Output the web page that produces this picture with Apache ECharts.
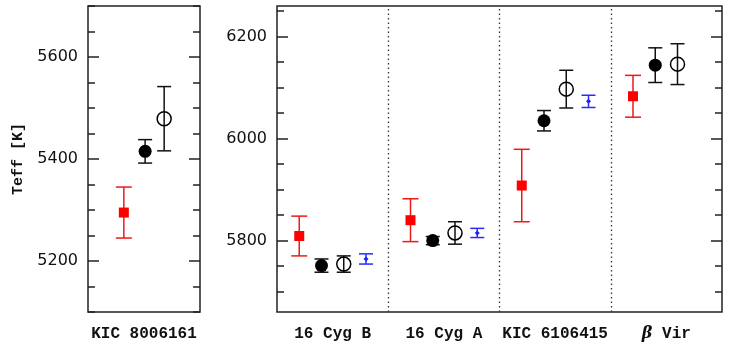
<!DOCTYPE html>
<html><head><meta charset="utf-8">
<script src="https://cdn.jsdelivr.net/npm/echarts@6/dist/echarts.min.js"></script>
<style>html,body{margin:0;padding:0;background:#fff}#c{width:731px;height:344px}</style>
</head><body><div id="c"></div>
<script>
// ---- data ----
const leftCategories = ['KIC 8006161'];
const rightCategories = ['16 Cyg B', '16 Cyg A', 'KIC 6106415', 'β Vir'];
// values: [KIC 8006161, 16 Cyg B, 16 Cyg A, KIC 6106415, beta Vir]
const redTeff    = [5295, 5809, 5840, 5908, 6083];
const redErr     = [50, 39, 42, 71, 41];
const filledTeff = [5415, 5751, 5800, 6035, 6144];
const filledErr  = [23, 13, 8, 20, 34];
const openTeff   = [5479, 5754, 5815, 6097, 6146];
const openErr    = [63, 16, 22, 37, 40];
const blueTeff   = [null, 5764, 5815, 6073, null];
const blueErr    = [null, 10, 9, 12, null];
const leftRange  = [5100, 5700];
const rightRange = [5660, 6260];
const minorStep = 50, majorStep = 200;

// ---- layout ----
const TOP = 6, H = 306;
const K = H / (leftRange[1] - leftRange[0]);
const LEFTP = {left: 88, width: 112};
const RIGHTP = {left: 277, width: 445};
const leftOffsets = [0.32, 0.51, 0.68];
const rightOffsets = [0.2, 0.4, 0.6, 0.8];
const FRAME = '#222', TICKC = '#222';

function subGrid(panel, range, lo, hi) {
  return {left: panel.left, width: panel.width, top: TOP + (range[1] - hi) * K, height: (hi - lo) * K, show: false};
}
const leftMinor = [Math.ceil(leftRange[0] / minorStep) * minorStep, Math.floor(leftRange[1] / minorStep) * minorStep];
const leftMajor = [Math.ceil(leftRange[0] / majorStep) * majorStep, Math.floor(leftRange[1] / majorStep) * majorStep];
const rightMinor = [Math.ceil(rightRange[0] / minorStep) * minorStep, Math.floor(rightRange[1] / minorStep) * minorStep];
const rightMajor = [Math.ceil(rightRange[0] / majorStep) * majorStep, Math.floor(rightRange[1] / majorStep) * majorStep];

const grids = [
  {left: LEFTP.left, width: LEFTP.width, top: TOP, height: H, show: true, borderColor: FRAME, borderWidth: 1.5, backgroundColor: 'transparent'},
  subGrid(LEFTP, leftRange, leftMinor[0], leftMinor[1]),
  subGrid(LEFTP, leftRange, leftMajor[0], leftMajor[1]),
  {left: RIGHTP.left, width: RIGHTP.width, top: TOP, height: H, show: true, borderColor: FRAME, borderWidth: 1.5, backgroundColor: 'transparent'},
  subGrid(RIGHTP, rightRange, rightMinor[0], rightMinor[1]),
  subGrid(RIGHTP, rightRange, rightMajor[0], rightMajor[1])
];

const labelFont = {fontFamily: 'Liberation Mono', fontWeight: 'bold', fontSize: 16, color: '#111'};
const tickFont = {fontFamily: 'DejaVu Sans', fontSize: 16, color: '#111'};

function hiddenX(gi, min, max) { return {type: 'value', gridIndex: gi, min: min, max: max, show: false}; }
function catX(gi, cats) {
  return {type: 'category', gridIndex: gi, data: cats, position: 'bottom', boundaryGap: true,
    axisLine: {show: false}, axisTick: {show: false}, splitLine: {show: false},
    axisLabel: Object.assign({margin: 14, interval: 0,
      formatter: v => v.indexOf('β') === 0 ? '{g|β}' + v.slice(1) : v,
      rich: {g: {fontFamily: 'DejaVu Serif', fontStyle: 'italic', fontWeight: 'bold', fontSize: 16, color: '#111'}}}, labelFont)};
}
function tickY(gi, lo, hi, step, pos, len, labels, name) {
  const a = {type: 'value', gridIndex: gi, position: pos, min: lo, max: hi, interval: step,
    axisLine: {show: false}, splitLine: {show: false},
    axisTick: {show: true, inside: true, length: len, lineStyle: {color: TICKC, width: 1.5}},
    axisLabel: labels ? Object.assign({show: true, margin: 10, formatter: v => String(v)}, tickFont) : {show: false}};
  if (name) {
    a.name = name; a.nameLocation = 'middle'; a.nameRotate = 90; a.nameGap = 62;
    a.nameTextStyle = {fontFamily: 'Liberation Mono', fontWeight: 'bold', fontSize: 15, color: '#111'};
  }
  return a;
}

const xAxes = [
  hiddenX(0, 0, 1), catX(0, leftCategories),
  hiddenX(1, 0, 1), hiddenX(2, 0, 1),
  hiddenX(3, 0, 4), catX(3, rightCategories),
  hiddenX(4, 0, 4), hiddenX(5, 0, 4)
];
const yAxes = [
  {type: 'value', gridIndex: 0, min: leftRange[0], max: leftRange[1], show: false},
  tickY(1, leftMinor[0], leftMinor[1], minorStep, 'left', 7, false),
  tickY(1, leftMinor[0], leftMinor[1], minorStep, 'right', 7, false),
  tickY(2, leftMajor[0], leftMajor[1], majorStep, 'left', 11, true, 'Teff [K]'),
  tickY(2, leftMajor[0], leftMajor[1], majorStep, 'right', 11, false),
  {type: 'value', gridIndex: 3, min: rightRange[0], max: rightRange[1], show: false},
  tickY(4, rightMinor[0], rightMinor[1], minorStep, 'left', 7, false),
  tickY(4, rightMinor[0], rightMinor[1], minorStep, 'right', 7, false),
  tickY(5, rightMajor[0], rightMajor[1], majorStep, 'left', 11, true),
  tickY(5, rightMajor[0], rightMajor[1], majorStep, 'right', 11, false)
];

function pts(vals, errs, k) {
  const L = [], R = [];
  vals.forEach((v, i) => {
    if (v == null) return;
    if (i === 0) L.push([leftOffsets[k === 3 ? 2 : k], v, errs[i]]);
    else R.push([i - 1 + rightOffsets[k], v, errs[i]]);
  });
  return {L, R};
}

function errSeries(data, xi, yi, color, cap) {
  return {type: 'custom', xAxisIndex: xi, yAxisIndex: yi, data: data, silent: true, z: 2,
    renderItem: (params, api) => {
      const x = api.value(0), y = api.value(1), e = api.value(2);
      const t = api.coord([x, y + e]), b = api.coord([x, y - e]);
      const st = {stroke: color, lineWidth: 1.5, fill: null};
      return {type: 'group', children: [
        {type: 'line', shape: {x1: t[0], y1: t[1], x2: b[0], y2: b[1]}, style: st},
        {type: 'line', shape: {x1: t[0] - cap, y1: t[1], x2: t[0] + cap, y2: t[1]}, style: st},
        {type: 'line', shape: {x1: b[0] - cap, y1: b[1], x2: b[0] + cap, y2: b[1]}, style: st}
      ]};
    }};
}
function markSeries(data, xi, yi, symbol, size, style) {
  return {type: 'scatter', xAxisIndex: xi, yAxisIndex: yi, data: data.map(d => [d[0], d[1]]), symbol: symbol,
    symbolSize: size, itemStyle: Object.assign({opacity: 1}, style), silent: true, z: 3};
}

const red = pts(redTeff, redErr, 0);
const filled = pts(filledTeff, filledErr, 1);
const open = pts(openTeff, openErr, 2);
const blue = pts(blueTeff, blueErr, 3);

const redStyle = {color: '#ff0000'};
const filledStyle = {color: '#000'};
const openStyle = {color: 'rgba(0,0,0,0)', borderColor: '#000', borderWidth: 1.5};
const blueStyle = {color: '#2020ff'};

const series = [];
[[red, '#f01818', 8, 'rect', 10, redStyle], [filled, '#111', 7, 'circle', 13, filledStyle],
 [open, '#111', 7, 'circle', 14, openStyle], [blue, '#2a2aff', 7, 'diamond', 5, blueStyle]].forEach(s => {
  const [d, col, cap, sym, sz, sty] = s;
  if (d.L.length) { series.push(errSeries(d.L, 0, 0, col, cap)); series.push(markSeries(d.L, 0, 0, sym, sz, sty)); }
  if (d.R.length) { series.push(errSeries(d.R, 4, 5, col, cap)); series.push(markSeries(d.R, 4, 5, sym, sz, sty)); }
});
// dotted separators between right-panel groups
series.push({type: 'line', xAxisIndex: 4, yAxisIndex: 5, data: [], silent: true,
  markLine: {silent: true, symbol: ['none', 'none'], label: {show: false},
    lineStyle: {type: [1.5, 3], color: '#333', width: 1.3},
    data: rightCategories.slice(1).map((c, i) => ({xAxis: i + 1}))}});

const chart = echarts.init(document.getElementById('c'), null, {renderer: 'canvas'});
chart.setOption({animation: false, backgroundColor: '#fff', grid: grids, xAxis: xAxes, yAxis: yAxes, series: series});
</script></body></html>
